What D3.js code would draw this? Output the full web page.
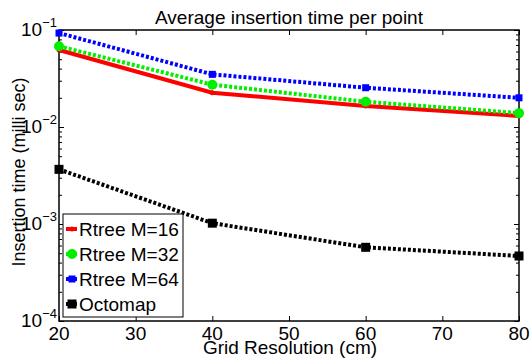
<!DOCTYPE html>
<html>
<head>
<meta charset="utf-8">
<script src="https://cdn.jsdelivr.net/npm/d3@7"></script>
<style>
  body { margin: 0; background: #fff; }
  text { font-family: "Liberation Sans", Arial, sans-serif; fill: #000; }
</style>
</head>
<body>
<div id="chart" style="width:530px;height:360px"></div>
<script>
// data
const gridRes = [20, 40, 60, 80];
const rtree16 = [0.0622, 0.0226, 0.0165, 0.0130];
const rtree32 = [0.068, 0.0273, 0.0182, 0.0139];
const rtree64 = [0.093, 0.0349, 0.0254, 0.0200];
const octomap = [0.00366, 0.00102, 0.000575, 0.000468];
const xTicks = [20, 30, 40, 50, 60, 70, 80];
const yTicks = [1e-4, 1e-3, 1e-2, 1e-1];

const series = [
    { name: 'Rtree M=16', values: rtree16, color: '#ff0000', dash: null, marker: 'dot' },
    { name: 'Rtree M=32', values: rtree32, color: '#00ee00', dash: '3,2', marker: 'circle' },
    { name: 'Rtree M=64', values: rtree64, color: '#0000ff', dash: '3,2', marker: 'square' },
    { name: 'Octomap', values: octomap, color: '#000000', dash: '3,2', marker: 'bigsquare' }
];

const margin = { top: 30, right: 11, bottom: 39, left: 59 };
const W = 530, H = 360;
const w = W - margin.left - margin.right;
const h = H - margin.top - margin.bottom;
const fs = 19;

const svg = d3.select('#chart').append('svg')
    .attr('width', W).attr('height', H);
const g = svg.append('g')
    .attr('transform', `translate(${margin.left}, ${margin.top})`);

const x = d3.scaleLinear().domain([20, 80]).range([0, w]);
const y = d3.scaleLog().domain([1e-4, 1e-1]).range([h, 0]);

// minor log ticks
const minor = [];
for (let e = -4; e < -1; e++) {
    for (let k = 2; k <= 9; k++) minor.push(k * Math.pow(10, e));
}

// axes with inward ticks
g.append('g').attr('transform', `translate(0, ${h})`)
    .call(d3.axisBottom(x).tickValues(xTicks).tickSize(-5).tickFormat(''))
    .call(a => a.select('.domain').remove());
g.append('g')
    .call(d3.axisTop(x).tickValues(xTicks).tickSize(-5).tickFormat(''))
    .call(a => a.select('.domain').remove());
g.append('g')
    .call(d3.axisLeft(y).tickValues(yTicks).tickSize(-5).tickFormat(''))
    .call(a => a.select('.domain').remove());
g.append('g')
    .call(d3.axisLeft(y).tickValues(minor).tickSize(-3).tickFormat(''))
    .call(a => a.select('.domain').remove());
g.append('g').attr('transform', `translate(${w}, 0)`)
    .call(d3.axisRight(y).tickValues(yTicks).tickSize(-5).tickFormat(''))
    .call(a => a.select('.domain').remove());
g.append('g').attr('transform', `translate(${w}, 0)`)
    .call(d3.axisRight(y).tickValues(minor).tickSize(-3).tickFormat(''))
    .call(a => a.select('.domain').remove());
g.selectAll('.tick line').attr('stroke', '#000').attr('stroke-width', 1);

g.append('rect').attr('width', w).attr('height', h)
    .attr('fill', 'none').attr('stroke', '#000').attr('stroke-width', 1.5);

// tick labels
g.selectAll('.xlab').data(xTicks).enter().append('text')
    .attr('x', d => x(d)).attr('y', h + 19)
    .attr('text-anchor', 'middle').attr('font-size', fs)
    .text(d => d);

const yl = g.selectAll('.ylab').data(yTicks).enter().append('text')
    .attr('x', -2).attr('y', d => y(d) + 6)
    .attr('text-anchor', 'end').attr('font-size', fs);
yl.append('tspan').text('10');
yl.append('tspan').attr('dy', -9).attr('font-size', 13)
    .text(d => '\u2212' + Math.round(-Math.log10(d)));

// lines
const line = d3.line().x((d, i) => x(gridRes[i])).y(d => y(d));

function drawMarker(sel, s, cx, cy) {
    if (s.marker === 'circle') {
        sel.append('circle').attr('cx', cx).attr('cy', cy).attr('r', 5).attr('fill', s.color);
    } else if (s.marker === 'square') {
        sel.append('rect').attr('x', cx - 3.5).attr('y', cy - 3.5).attr('width', 7).attr('height', 7).attr('fill', s.color);
    } else if (s.marker === 'bigsquare') {
        sel.append('rect').attr('x', cx - 4.5).attr('y', cy - 4.5).attr('width', 9).attr('height', 9).attr('fill', s.color);
    } else {
        sel.append('circle').attr('cx', cx).attr('cy', cy).attr('r', 2.5).attr('fill', s.color);
    }
}

series.forEach(s => {
    g.append('path').datum(s.values)
        .attr('d', line)
        .attr('fill', 'none')
        .attr('stroke', s.color)
        .attr('stroke-width', 4)
        .attr('stroke-dasharray', s.dash);
    const mg = g.append('g');
    s.values.forEach((v, i) => drawMarker(mg, s, x(gridRes[i]), y(v)));
});

// legend
const lg = g.append('g').attr('transform', 'translate(4, 184)');
lg.append('rect').attr('width', 120).attr('height', 103)
    .attr('fill', '#fff').attr('stroke', '#000').attr('stroke-width', 1);
series.forEach((s, i) => {
    const cy = 15 + i * 25;
    lg.append('line').attr('x1', 3).attr('x2', 14).attr('y1', cy).attr('y2', cy)
        .attr('stroke', s.color).attr('stroke-width', 4);
    drawMarker(lg, s, 9, cy);
    lg.append('text').attr('x', 16).attr('y', cy + 7)
        .attr('font-size', fs).text(s.name);
});

// title and labels
svg.append('text').attr('x', margin.left + w / 2).attr('y', 24)
    .attr('text-anchor', 'middle').attr('font-size', fs)
    .text('Average insertion time per point');
svg.append('text').attr('x', margin.left + w / 2 + 1).attr('y', 354)
    .attr('text-anchor', 'middle').attr('font-size', fs)
    .text('Grid Resolution (cm)');
svg.append('text')
    .attr('transform', 'translate(25, 172) rotate(-90)')
    .attr('text-anchor', 'middle').attr('font-size', 18)
    .text('Insertion time (milli sec)');
</script>
</body>
</html>
